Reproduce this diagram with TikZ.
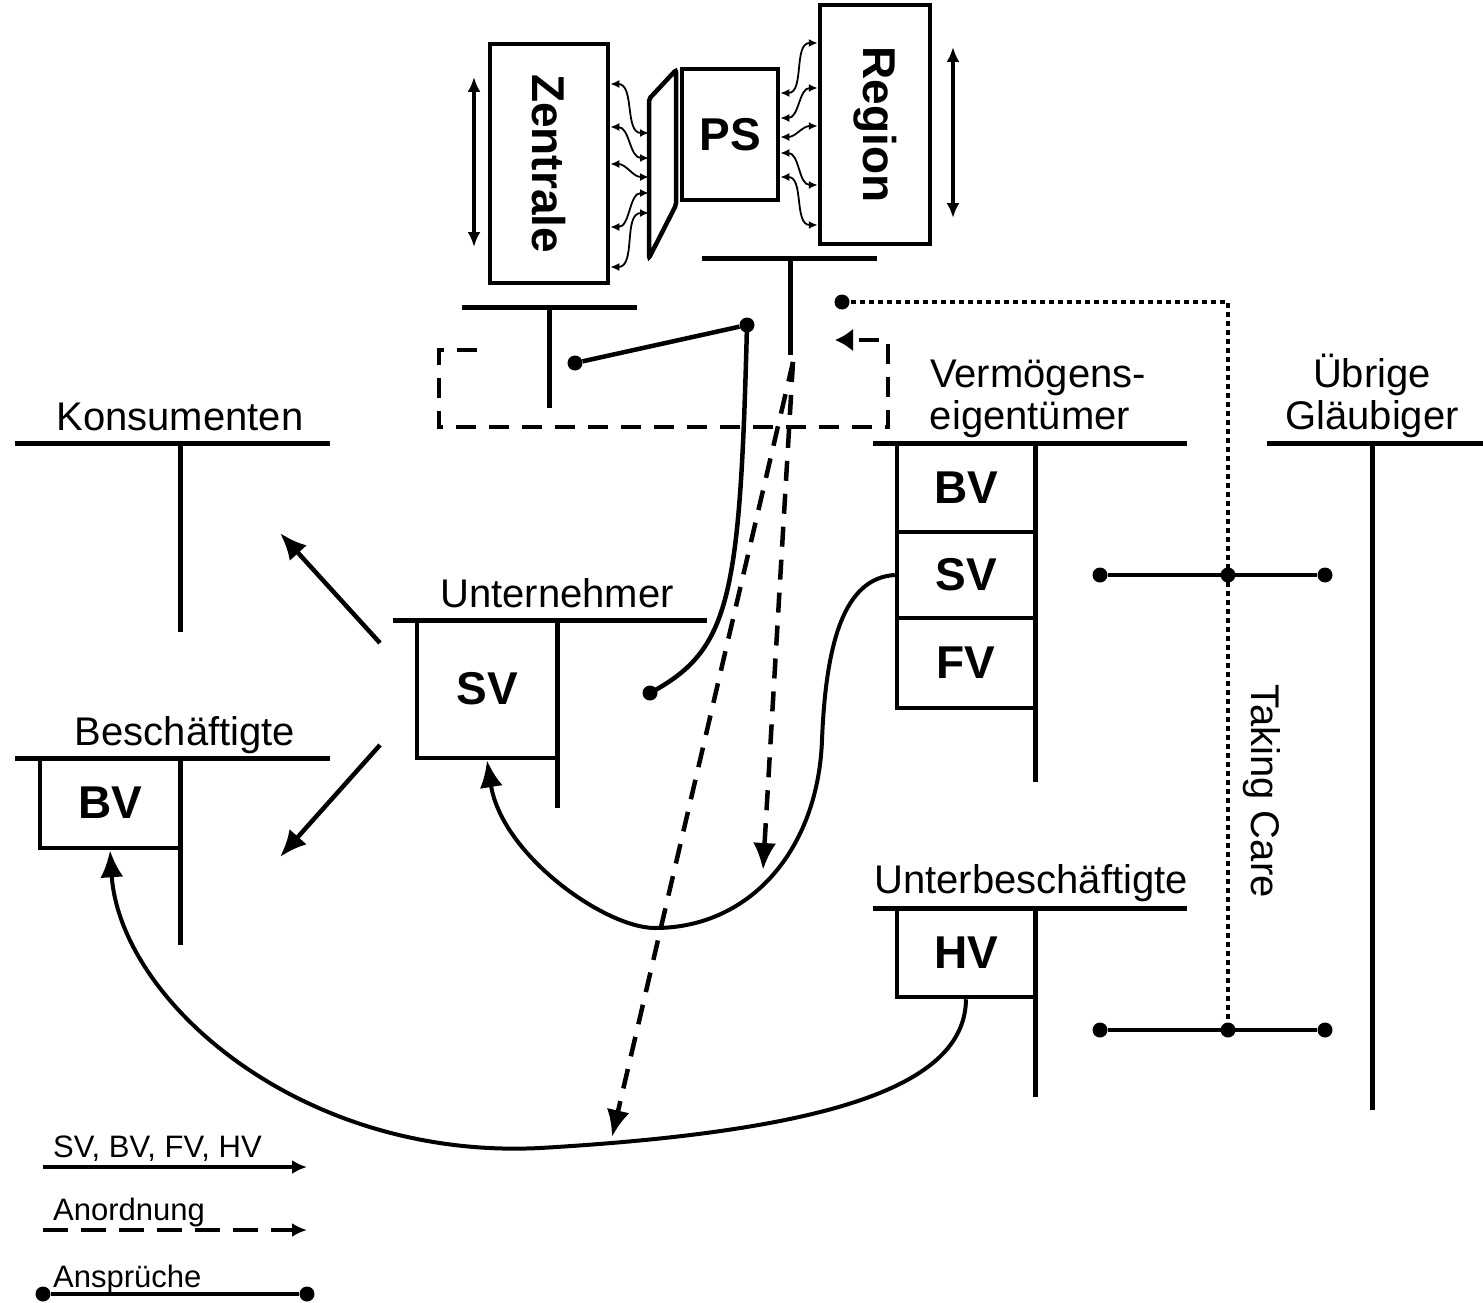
\documentclass[tikz,border=0pt]{standalone}
\usepackage{fontspec}
\setmainfont{Liberation Sans}
\usetikzlibrary{arrows.meta}
\usetikzlibrary{positioning}
\tikzset{konto/.style = {line width = 5pt}}
\tikzset{box/.style = {draw, line width = 4.5pt, inner sep = 0,
                       font = \fontsize{46}{50}\selectfont\bfseries}}
\tikzset{lbl/.style = {inner sep = 0, font = \fontsize{40}{46}\selectfont}}
\tikzset{legende/.style = {inner sep = 0, anchor = base west, font = \fontsize{31}{36}\selectfont}}
\tikzset{punkt/.style = {fill, circle, inner sep = 0, minimum size = 15pt}}
\tikzset{fluss/.style = {line width = 4.5pt, -{Latex[length = 27pt, width = 23pt]}}}
\tikzset{anord/.style = {fluss, dash pattern = on 20pt off 13pt}}
\tikzset{anspruch/.style = {line width = 4.5pt}}
\tikzset{pfeilchen/.style = {line width = 1.8pt,
                             {Latex[length = 9pt, width = 8pt]}-{Latex[length = 9pt, width = 8pt]}}}
\tikzset{doppel/.style = {line width = 4.5pt,
                          {Latex[length = 15pt, width = 13pt]}-{Latex[length = 15pt, width = 13pt]}}}
\tikzset{punktiert/.style = {line width = 4.5pt, dash pattern = on 4.5pt off 4.5pt}}

\begin{document}
\begin{tikzpicture}[x = 1pt, y = -1pt]
  \useasboundingbox (0, 0) rectangle (1483, 1303);

  \node[box, rotate = -90, minimum width = 239pt, minimum height = 118pt] (zen) at (549, 163.5) {Zentrale};
  \node[box, rotate = -90, minimum width = 239pt, minimum height = 110pt] (reg) at (875, 124.5) {Region};
  \node[box, minimum width = 96pt, minimum height = 131pt] (ps) at (730, 134.5) {PS};
  \draw[line width = 4.5pt, rounded corners = 2pt] (649, 99) -- (676, 70) -- (676, 205) -- (649, 258) -- cycle;
  \coordinate (falz) at (649, 0);
  \foreach \a/\b in {84/133, 127/158, 164/177, 227/193, 267/213}
    \draw[pfeilchen] (zen.north |- 0, \a) to[out = 0, in = 180] (falz |- 0, \b);
  \foreach \a/\b in {93/43, 118/88, 137/126, 153/185, 177/225}
    \draw[pfeilchen] (ps.east |- 0, \a) to[out = 0, in = 180] (reg.south |- 0, \b);
  \draw[doppel] (474, 77) -- (474, 247);
  \draw[doppel] (953, 47) -- (953, 218);

  \draw[konto] (462, 307) -- (637, 307) (549, 307) -- (549, 408);
  \draw[konto] (702, 258) -- (877, 258) (790, 258) -- (790, 355);
  \draw[anord, -{Latex[length = 18pt, width = 23pt]}] (477, 350) -- (439, 350) -- (439, 427) -- (888, 427) -- (888, 340) -- (835, 340);

  \node[punkt] (p1) at (575, 363) {};
  \node[punkt] (p2) at (747, 325) {};
  \node[punkt] (p3) at (650, 693) {};
  \draw[anspruch] (p1) -- (p2);
  \draw[anspruch] (p2.center) .. controls (740, 600) and (730, 650) .. (p3.center);

  \coordinate (ab) at (793, 362);
  \coordinate (ziel1) at (612, 1137);
  \coordinate (ziel2) at (763, 870);
  \draw[anord] (ab) -- (ziel1);
  \draw[anord] (ab) -- (ziel2);

  \node[lbl, anchor = base] (kons) at (180, 430) {Konsumenten};
  \draw[konto] (15, 443) -- (330, 443) (180, 443) -- (180, 632);

  \node[lbl, anchor = base] (besch) at (185, 745) {Beschäftigte};
  \draw[konto] (15, 758) -- (330, 758) (180, 758) -- (180, 945);
  \node[box, minimum width = 140pt, minimum height = 90pt] (bv1) at (110, 803) {BV};

  \node[lbl, anchor = base] (unt) at (557, 607) {Unternehmer};
  \draw[konto] (393, 620) -- (707, 620) (557, 620) -- (557, 808);
  \node[box, minimum width = 140pt, minimum height = 138pt] (sv1) at (487, 689) {SV};

  \coordinate (k0) at (380, 643);
  \coordinate (k1) at (280, 533);
  \coordinate (b0) at (380, 745);
  \coordinate (b1) at (280, 857);
  \draw[fluss] (k0) -- (k1);
  \draw[fluss] (b0) -- (b1);

  \node[lbl, anchor = base] (verm) at (1038, 387) {Vermögens-};
  \node[lbl, anchor = base] (eig) at (1030, 429) {eigentümer};
  \draw[konto] (873, 443) -- (1187, 443) (1035, 443) -- (1035, 782);
  \node[box, minimum width = 138pt, minimum height = 89pt] (bv2) at (966, 487.5) {BV};
  \node[box, minimum width = 138pt, minimum height = 86pt] (sv2) at (966, 575) {SV};
  \node[box, minimum width = 138pt, minimum height = 90pt] (fv2) at (966, 663) {FV};

  \node[lbl, anchor = base] (ueb) at (1372, 387) {Übrige};
  \node[lbl, anchor = base] (glaeu) at (1372, 429) {Gläubiger};
  \draw[konto] (1267, 443) -- (1483, 443) (1372, 443) -- (1372, 1110);

  \node[lbl, anchor = base] (unterb) at (1031, 893) {Unterbeschäftigte};
  \draw[konto] (873, 908) -- (1187, 908) (1035, 908) -- (1035, 1097);
  \node[box, minimum width = 138pt, minimum height = 89pt] (hv) at (966, 952.5) {HV};

  \node[punkt] (tc0) at (842, 302) {};
  \node[punkt] (a1) at (1100, 575) {};
  \node[punkt] (a2) at (1228, 575) {};
  \node[punkt] (a3) at (1325, 575) {};
  \node[punkt] (b1) at (1100, 1030) {};
  \node[punkt] (b2) at (1228, 1030) {};
  \node[punkt] (b3) at (1325, 1030) {};
  \draw[anspruch] (a1) -- (a3);
  \draw[anspruch] (b1) -- (b3);
  \draw[punktiert] (tc0.center) -- (b2 |- tc0) -- (b2.center);
  \node[lbl, rotate = -90] (take) at (1262, 791) {Taking Care};

  \draw[fluss, line width = 4pt] (sv2.west) .. controls (845, 578) and (826, 640) .. (822, 740)
    .. controls (818, 850) and (750, 928) .. (655, 928)
    .. controls (605, 928) and (502, 855) .. (sv1.south);
  \draw[fluss, line width = 4pt] (hv.south) .. controls (965, 1080) and (850, 1130) .. (540, 1148)
    .. controls (300, 1160) and (120, 1000) .. (bv1.south);

  \node[legende] (l1) at (53, 1157) {SV, BV, FV, HV};
  \coordinate (l1a) at (43, 1167);
  \coordinate (l1b) at (307, 1167);
  \draw[fluss, line width = 4pt, -{Latex[length = 15pt, width = 14pt]}] (l1a) -- (l1b);
  \node[legende] (l2) at (53, 1220) {Anordnung};
  \coordinate (l2a) at (43, 1230);
  \coordinate (l2b) at (307, 1230);
  \draw[anord, line width = 4pt, dash pattern = on 25pt off 13pt, -{Latex[length = 15pt, width = 14pt]}] (l2a) -- (l2b);
  \node[legende] (l3) at (53, 1287) {Ansprüche};
  \node[punkt] (l3a) at (43, 1294) {};
  \node[punkt] (l3b) at (307, 1294) {};
  \draw[anspruch] (l3a) -- (l3b);
\end{tikzpicture}
\end{document}
